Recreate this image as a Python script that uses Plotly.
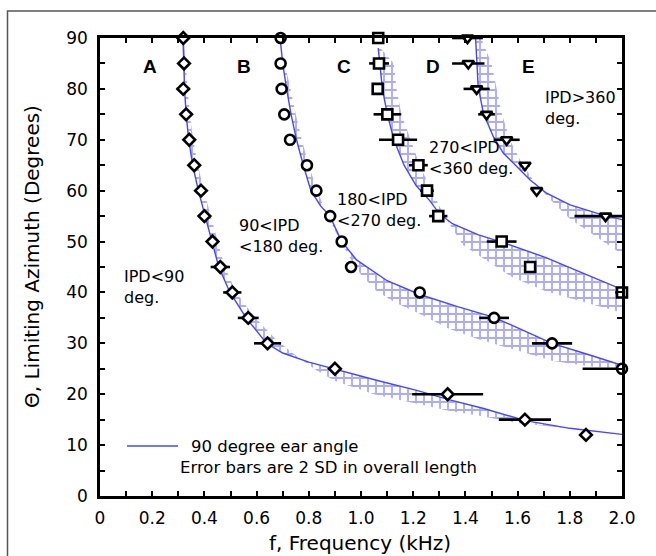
import plotly.graph_objects as go

# ---------------- measured points (f in kHz, theta in degrees) ----------------
A_f = [0.319, 0.322, 0.319, 0.330, 0.342, 0.361, 0.387, 0.400, 0.431, 0.461, 0.507, 0.568, 0.642, 0.900, 1.332, 1.628, 1.862]
A_theta = [90, 85, 80, 75, 70, 65, 60, 55, 50, 45, 40, 35, 30, 25, 20, 15, 12]
A_err_plus = [0, 0, 0.025, 0, 0, 0, 0.02, 0.018, 0, 0.037, 0.035, 0.040, 0.052, 0, 0.136, 0.100, 0]
A_err_minus = [0, 0, 0.025, 0, 0, 0, 0.02, 0.018, 0, 0.037, 0.035, 0.040, 0.052, 0, 0.136, 0.100, 0]

B_f = [0.692, 0.692, 0.696, 0.706, 0.728, 0.793, 0.829, 0.882, 0.926, 0.962, 1.225, 1.510, 1.732, 2.000]
B_theta = [90, 85, 80, 75, 70, 65, 60, 55, 50, 45, 40, 35, 30, 25]
B_err_plus = [0, 0, 0, 0, 0, 0, 0, 0, 0, 0, 0, 0.057, 0.077, 0]
B_err_minus = [0, 0, 0, 0, 0, 0, 0, 0, 0, 0, 0, 0.057, 0.077, 0.151]

C_f = [1.066, 1.069, 1.064, 1.101, 1.142, 1.220, 1.253, 1.296, 1.539, 1.648, 2.000]
C_theta = [90, 85, 80, 75, 70, 65, 60, 55, 50, 45, 40]
C_err_plus = [0, 0.038, 0, 0.053, 0.073, 0.036, 0.026, 0.035, 0.057, 0, 0]
C_err_minus = [0, 0.038, 0, 0.053, 0.073, 0.036, 0.026, 0.035, 0.057, 0, 0.026]

D_f = [1.408, 1.411, 1.443, 1.481, 1.558, 1.628, 1.673, 1.937]
D_theta = [90, 85, 80, 75, 70, 65, 60, 55]
D_err_plus = [0.059, 0.062, 0.050, 0.032, 0.050, 0.019, 0, 0.063]
D_err_minus = [0.059, 0.062, 0.050, 0.032, 0.050, 0.019, 0, 0.119]

# ---------------- "90 degree ear angle" curves ----------------
lineA_f = [0.318, 0.320, 0.324, 0.330, 0.340, 0.355, 0.377, 0.403, 0.430, 0.455, 0.498, 0.560, 0.638, 0.700, 0.800, 0.900, 1.070, 1.210, 1.340, 1.470, 1.630, 1.800, 2.000]
lineA_theta = [90, 85, 80, 75, 70, 65, 60, 55, 50, 45, 40, 35, 30, 28.1, 26.3, 24.9, 22.6, 20.8, 18.9, 17.2, 14.8, 13.3, 12.1]
bandA_f = [0.322, 0.328, 0.335, 0.344, 0.357, 0.375, 0.398, 0.425, 0.452, 0.478, 0.522, 0.595, 0.670, 0.740, 0.820, 0.900, 1.050, 1.210, 1.340, 1.470, 1.590, 1.720, 1.800]
bandA_theta = [90, 85, 80, 75, 70, 65, 60, 55, 50, 45, 40, 35, 31, 28.0, 25.0, 22.6, 20.0, 18.2, 16.7, 15.6, 14.4, 13.7, 13.3]

lineB_f = [0.690, 0.700, 0.715, 0.732, 0.753, 0.779, 0.808, 0.845, 0.881, 0.926, 0.983, 1.047, 1.100, 1.225, 1.370, 1.510, 1.620, 1.732, 1.870, 2.000]
lineB_theta = [90, 85, 80, 75, 70, 65, 60, 57, 55, 50, 46.4, 44.1, 42.3, 39.6, 37.2, 35.1, 32.5, 30.0, 27.8, 25.7]
bandB_f = [0.695, 0.712, 0.730, 0.750, 0.773, 0.800, 0.832, 0.872, 0.912, 0.955, 1.000, 1.060, 1.130, 1.225, 1.330, 1.450, 1.580, 1.732, 1.870, 2.000]
bandB_theta = [88, 84, 80, 75, 70, 65, 60, 55, 51, 47, 43.5, 40.3, 38.0, 35.8, 33.0, 30.8, 28.8, 26.6, 25.5, 25.0]

lineC_f = [1.066, 1.073, 1.082, 1.101, 1.126, 1.165, 1.211, 1.264, 1.300, 1.350, 1.450, 1.539, 1.711, 1.850, 2.000]
lineC_theta = [88, 85, 80, 75, 70, 65, 61, 58, 55.5, 53.5, 51.3, 49.9, 46.8, 43.8, 40.6]
bandC_f = [1.075, 1.126, 1.136, 1.155, 1.190, 1.225, 1.270, 1.320, 1.390, 1.480, 1.580, 1.710, 1.840, 2.000]
bandC_theta = [88, 85, 80, 75, 70, 65, 60, 55, 49.3, 46.3, 43, 40.2, 38.3, 36]

lineD_f = [1.439, 1.443, 1.449, 1.469, 1.507, 1.545, 1.596, 1.648, 1.711, 1.801, 1.903, 2.000]
lineD_theta = [90, 85, 80.4, 75.2, 70.6, 67.4, 64.8, 62.1, 59.5, 57.2, 55.6, 54.3]
bandD_f = [1.460, 1.500, 1.520, 1.540, 1.570, 1.610, 1.660, 1.720, 1.800, 1.900, 2.000]
bandD_theta = [90, 85, 80, 75, 70, 66, 62, 58.5, 54.5, 51, 47.5]

x_tickvals = [0, 0.2, 0.4, 0.6, 0.8, 1.0, 1.2, 1.4, 1.6, 1.8, 2.0]
x_ticktext = ["0", "0.2", "0.4", "0.6", "0.8", "1.0", "1.2", "1.4", "1.6", "1.8", "2.0"]
x_minor = [0.1, 0.3, 0.5, 0.7, 0.9, 1.1, 1.3, 1.5, 1.7, 1.9]
y_tickvals = [0, 10, 20, 30, 40, 50, 60, 70, 80, 90]
y_minor = [5, 15, 25, 35, 45, 55, 65, 75, 85]

region_labels = ["A", "B", "C", "D", "E"]
region_label_f = [0.190, 0.550, 0.934, 1.274, 1.643]
region_label_theta = 84.4

ipd_texts = ["IPD&lt;90<br>deg.", "90&lt;IPD<br>&lt;180 deg.", "180&lt;IPD<br>&lt;270 deg.",
             "270&lt;IPD<br>&lt;360 deg.", "IPD&gt;360<br>deg."]
ipd_f = [0.083, 0.524, 0.902, 1.252, 1.699]
ipd_theta = [41.1, 51.0, 56.2, 66.4, 76.2]

BLUE = "#4646ff"
HATCH = "#5a5aff"
FONT = "DejaVu Sans"

fig = go.Figure()

# hatched bands
for lf, lt, bf, bt in [(lineA_f, lineA_theta, bandA_f, bandA_theta),
                       (lineB_f, lineB_theta, bandB_f, bandB_theta),
                       (lineC_f, lineC_theta, bandC_f, bandC_theta),
                       (lineD_f, lineD_theta, bandD_f, bandD_theta)]:
    fig.add_trace(go.Scatter(
        x=lf + bf[::-1], y=lt + bt[::-1], mode="lines", fill="toself",
        line=dict(width=0, color="rgba(0,0,0,0)"),
        fillcolor="rgba(0,0,0,0)",
        fillpattern=dict(shape="+", size=8, solidity=0.42, fgcolor=HATCH,
                         bgcolor="rgba(0,0,0,0)"),
        hoverinfo="skip", showlegend=False))

# theory curves
for lf, lt in [(lineA_f, lineA_theta), (lineB_f, lineB_theta),
               (lineC_f, lineC_theta), (lineD_f, lineD_theta)]:
    fig.add_trace(go.Scatter(x=lf, y=lt, mode="lines",
                             line=dict(color=BLUE, width=1.4),
                             showlegend=False, cliponaxis=True))

# measured points
for f, th, ep, em, sym, sz in [
        (A_f, A_theta, A_err_plus, A_err_minus, "diamond", 9),
        (B_f, B_theta, B_err_plus, B_err_minus, "circle", 10),
        (C_f, C_theta, C_err_plus, C_err_minus, "square", 10),
        (D_f, D_theta, D_err_plus, D_err_minus, "triangle-down", 10)]:
    fig.add_trace(go.Scatter(
        x=f, y=th, mode="markers",
        marker=dict(symbol=sym, size=sz, color="white",
                    line=dict(color="black", width=2.6)),
        error_x=dict(type="data", symmetric=False, array=ep, arrayminus=em,
                     color="black", thickness=2.6, width=0),
        cliponaxis=False, showlegend=False))

annotations = []
for lab, xf in zip(region_labels, region_label_f):
    annotations.append(dict(x=xf, y=region_label_theta, xref="x", yref="y",
                            text="<b>%s</b>" % lab, showarrow=False,
                            font=dict(family="Liberation Sans", size=19, color="black")))
for t, xf, yt in zip(ipd_texts, ipd_f, ipd_theta):
    annotations.append(dict(x=xf, y=yt, xref="x", yref="y", text=t, showarrow=False,
                            xanchor="left", yanchor="middle", align="left",
                            font=dict(family=FONT, size=16, color="black")))

# legend-like text
annotations.append(dict(x=(189 - 100) / 522, y=(496 - 446) / 458, xref="paper", yref="paper",
                        text="90 degree ear angle", showarrow=False, xanchor="left",
                        yanchor="middle", font=dict(family=FONT, size=16.5, color="black")))
annotations.append(dict(x=(178 - 100) / 522, y=(496 - 467) / 458, xref="paper", yref="paper",
                        text="Error bars are 2 SD in overall length", showarrow=False,
                        xanchor="left", yanchor="middle",
                        font=dict(family=FONT, size=16.5, color="black")))
# axis titles
annotations.append(dict(x=(32 - 100) / 522, y=(496 - 257) / 458, xref="paper", yref="paper",
                        text="\u0398, Limiting Azimuth (Degrees)", textangle=-90,
                        showarrow=False, xanchor="center", yanchor="middle",
                        font=dict(family=FONT, size=20, color="black")))
annotations.append(dict(x=(360 - 100) / 522, y=(496 - 543) / 458, xref="paper", yref="paper",
                        text="f, Frequency (kHz)", showarrow=False, xanchor="center",
                        yanchor="middle", font=dict(family=FONT, size=20, color="black")))

shapes = [
    dict(type="line", xref="paper", yref="paper",
         x0=(127 - 100) / 522, x1=(178 - 100) / 522,
         y0=(496 - 446) / 458, y1=(496 - 446) / 458,
         line=dict(color=BLUE, width=1.5)),
    dict(type="rect", xref="paper", yref="paper",
         x0=(7.5 - 100) / 522, x1=1.3, y0=-0.3, y1=(496 - 11) / 458,
         line=dict(color="#555555", width=1.5), fillcolor="rgba(0,0,0,0)", layer="below"),
]

axis_common = dict(showgrid=False, zeroline=False, showline=True, linecolor="black",
                   linewidth=2.6, mirror="ticks", ticks="inside", ticklen=5,
                   tickwidth=2, tickcolor="black",
                   tickfont=dict(family=FONT, size=17, color="black"))

fig.update_layout(
    width=656, height=556,
    margin=dict(l=100, r=34, t=38, b=60),
    paper_bgcolor="white", plot_bgcolor="white",
    xaxis=dict(range=[0, 2.0], tickmode="array", tickvals=x_tickvals, ticktext=x_ticktext,
               minor=dict(tickmode="array", tickvals=x_minor, ticks="inside", ticklen=5,
                          tickwidth=2, tickcolor="black"),
               ticklabelstandoff=5, **axis_common),
    yaxis=dict(range=[0, 90], tickmode="array", tickvals=y_tickvals,
               minor=dict(tickmode="array", tickvals=y_minor, ticks="inside", ticklen=5,
                          tickwidth=2, tickcolor="black"),
               ticklabelstandoff=6, **axis_common),
    annotations=annotations, shapes=shapes, showlegend=False,
)

fig.write_html("out.html")
